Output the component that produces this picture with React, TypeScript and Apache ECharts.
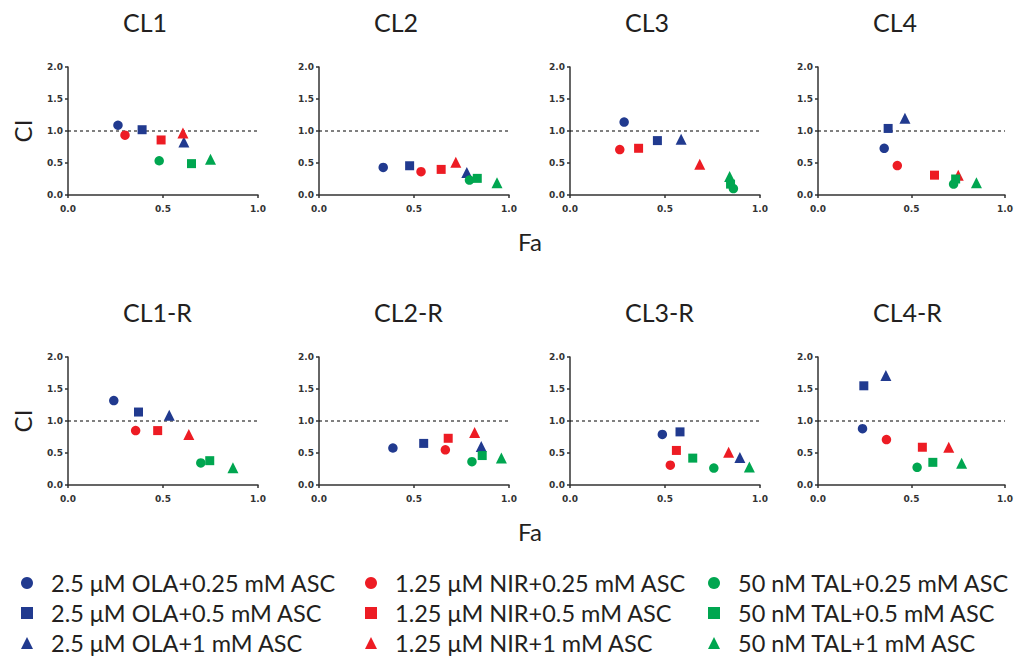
import React, { useEffect, useRef } from "react";
import * as echarts from "echarts";

const panelTitles = ["CL1", "CL2", "CL3", "CL4", "CL1-R", "CL2-R", "CL3-R", "CL4-R"];

const treatments = [
  "2.5 μM OLA+0.25 mM ASC",
  "2.5 μM OLA+0.5 mM ASC",
  "2.5 μM OLA+1 mM ASC",
  "1.25 μM NIR+0.25 mM ASC",
  "1.25 μM NIR+0.5 mM ASC",
  "1.25 μM NIR+1 mM ASC",
  "50 nM TAL+0.25 mM ASC",
  "50 nM TAL+0.5 mM ASC",
  "50 nM TAL+1 mM ASC",
];

const shapes = ["circle", "rect", "triangle", "circle", "rect", "triangle", "circle", "rect", "triangle"];
const colors = ["#213a8f", "#213a8f", "#213a8f", "#ed1c24", "#ed1c24", "#ed1c24", "#00a650", "#00a650", "#00a650"];

// Fa / CI per panel, in treatment order
const faCL1 = [0.263, 0.39, 0.61, 0.3, 0.49, 0.605, 0.48, 0.65, 0.75];
const ciCL1 = [1.09, 1.02, 0.83, 0.935, 0.86, 0.97, 0.535, 0.49, 0.56];
const faCL2 = [0.338, 0.477, 0.778, 0.537, 0.643, 0.72, 0.792, 0.833, 0.937];
const ciCL2 = [0.43, 0.457, 0.35, 0.364, 0.4, 0.51, 0.234, 0.26, 0.19];
const faCL3 = [0.285, 0.46, 0.585, 0.262, 0.361, 0.683, 0.86, 0.845, 0.84];
const ciCL3 = [1.14, 0.85, 0.87, 0.71, 0.73, 0.48, 0.1, 0.17, 0.29];
const faCL4 = [0.354, 0.375, 0.465, 0.424, 0.623, 0.75, 0.725, 0.736, 0.847];
const ciCL4 = [0.73, 1.04, 1.2, 0.46, 0.31, 0.31, 0.17, 0.25, 0.19];
const faCL1R = [0.241, 0.371, 0.533, 0.356, 0.472, 0.636, 0.699, 0.746, 0.868];
const ciCL1R = [1.32, 1.14, 1.09, 0.85, 0.85, 0.79, 0.345, 0.38, 0.27];
const faCL2R = [0.389, 0.551, 0.854, 0.665, 0.68, 0.819, 0.805, 0.859, 0.96];
const ciCL2R = [0.578, 0.65, 0.6, 0.55, 0.73, 0.82, 0.365, 0.46, 0.42];
const faCL3R = [0.486, 0.579, 0.894, 0.528, 0.56, 0.835, 0.757, 0.646, 0.944];
const ciCL3R = [0.79, 0.83, 0.43, 0.31, 0.54, 0.51, 0.265, 0.42, 0.28];
const faCL4R = [0.238, 0.245, 0.363, 0.366, 0.558, 0.699, 0.53, 0.614, 0.768];
const ciCL4R = [0.88, 1.55, 1.71, 0.71, 0.59, 0.59, 0.276, 0.354, 0.34];

const faAll = [faCL1, faCL2, faCL3, faCL4, faCL1R, faCL2R, faCL3R, faCL4R];
const ciAll = [ciCL1, ciCL2, ciCL3, ciCL4, ciCL1R, ciCL2R, ciCL3R, ciCL4R];

const refLine = [[0, 1], [1, 1]];

const gridLefts = [68, 319, 570, 818];
const gridTops = [67, 357];
const gridW = 190;
const gridH = 128;

const FONT = "Lato";
const TXT = "#231f20";

export default function App() {
  const ref = useRef<HTMLDivElement>(null);
  useEffect(() => {
    if (!ref.current) return;
    const chart = echarts.init(ref.current, null, { renderer: "svg" });

    const grids: any[] = [];
    const xAxes: any[] = [];
    const yAxes: any[] = [];
    const series: any[] = [];
    const graphics: any[] = [];

    for (let p = 0; p < 8; p++) {
      const col = p % 4;
      const row = Math.floor(p / 4);
      const left = gridLefts[col];
      const top = gridTops[row];
      grids.push({ left, top, width: gridW, height: gridH, containLabel: false });
      const axisCommon = {
        gridIndex: p,
        type: "value",
        min: 0,
        interval: 0.5,
        splitLine: { show: false },
        axisLine: { show: true, onZero: false, lineStyle: { color: "#333", width: 1.5 } },
        axisTick: { show: true, length: 3, lineStyle: { color: "#333", width: 1.5 } },
        axisLabel: {
          fontFamily: "DejaVu Sans",
          fontWeight: "bold",
          fontSize: 9,
          color: "#333",
          formatter: (v: number) => v.toFixed(1),
        },
      };
      xAxes.push({ ...axisCommon, max: 1, axisLabel: { ...axisCommon.axisLabel, margin: 9 } });
      yAxes.push({ ...axisCommon, max: 2, axisLabel: { ...axisCommon.axisLabel, margin: 5 } });

      series.push({
        type: "line",
        xAxisIndex: p,
        yAxisIndex: p,
        data: refLine,
        showSymbol: false,
        symbol: "none",
        silent: true,
        lineStyle: { color: "#000", width: 1, type: [3, 3] },
        z: 1,
      });

      for (let t = 0; t < treatments.length; t++) {
        series.push({
          name: treatments[t],
          type: "scatter",
          xAxisIndex: p,
          yAxisIndex: p,
          symbol: shapes[t],
          symbolSize: shapes[t] === "triangle" ? 11 : shapes[t] === "rect" ? 9 : 9.5,
          itemStyle: { color: colors[t], opacity: 1 },
          data: [[faAll[p][t], ciAll[p][t]]],
          z: 3,
        });
      }

      graphics.push({
        type: "text",
        left: left + gridW / 2 - 40,
        top: top - 58,
        style: {
          text: panelTitles[p],
          x: 40,
          fill: TXT,
          font: `25px ${FONT}`,
          textAlign: "center",
        },
      });
    }

    for (let row = 0; row < 2; row++) {
      graphics.push({
        type: "text",
        x: 530,
        y: gridTops[row] + gridH + 46,
        style: { text: "Fa", fill: TXT, font: `24px ${FONT}`, textAlign: "center", textVerticalAlign: "middle" },
      });
      graphics.push({
        type: "text",
        x: 22,
        y: gridTops[row] + gridH / 2,
        rotation: Math.PI / 2,
        style: { text: "CI", fill: TXT, font: `24px ${FONT}`, textAlign: "center", textVerticalAlign: "middle" },
      });
    }

    const legendLefts = [21, 365, 708];
    const legends = legendLefts.map((l, g) => ({
      orient: "vertical",
      left: l,
      top: 571,
      height: 120,
      padding: 0,
      itemWidth: 12,
      itemHeight: 12,
      itemGap: 6,
      selectedMode: false,
      data: treatments.slice(g * 3, g * 3 + 3),
      textStyle: {
        fontFamily: FONT,
        fontSize: 23.5,
        lineHeight: 22,
        color: TXT,
        padding: [0, 0, 0, 13],
      },
    }));

    chart.setOption({
      animation: false,
      backgroundColor: "#fff",
      grid: grids,
      xAxis: xAxes,
      yAxis: yAxes,
      legend: legends,
      series,
      graphic: graphics,
    });
    return () => chart.dispose();
  }, []);

  return (
    <div
      ref={ref}
      style={{ position: "fixed", left: 0, top: 0, width: 1016, height: 658 }}
    />
  );
}
